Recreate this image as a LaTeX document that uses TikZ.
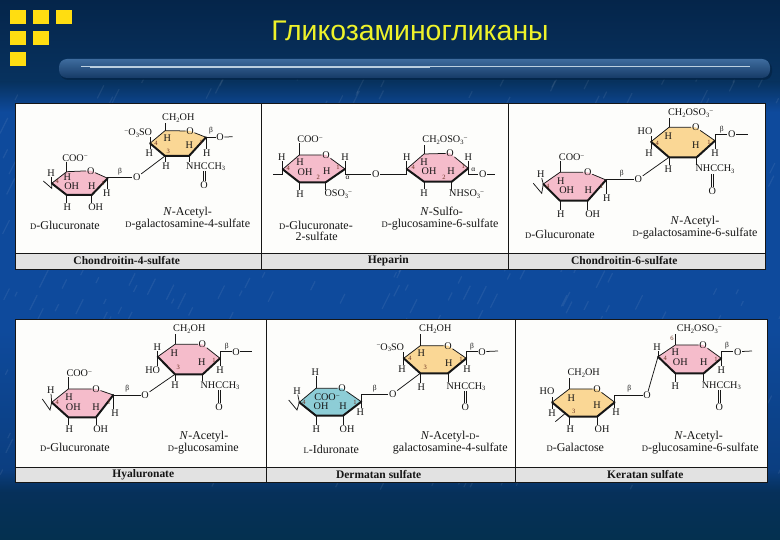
\documentclass[tikz,border=0pt]{standalone}
\usepackage{fontspec}
\setmainfont{Liberation Serif}
\newfontfamily\titlefont{Liberation Sans}
\definecolor{ink}{HTML}{161616}
\definecolor{pinkring}{HTML}{F5BCCB}
\definecolor{yellowring}{HTML}{FAD795}
\definecolor{bluering}{HTML}{8DCDD6}
\definecolor{panelwhite}{HTML}{FDFDFB}
\definecolor{bargrey}{HTML}{E2E2E2}
\definecolor{numred}{HTML}{6A3020}
\definecolor{squareyellow}{HTML}{FFDD11}
\definecolor{titleyellow}{HTML}{EEF22A}
\definecolor{bgtop}{HTML}{05254A}
\definecolor{bgupper}{HTML}{07325F}
\definecolor{bgmid}{HTML}{0E4A9C}
\definecolor{bglow}{HTML}{0B3E80}
\definecolor{bgbot}{HTML}{06305A}
\definecolor{bgend}{HTML}{04304F}
\definecolor{bartop}{HTML}{3E6C9E}
\definecolor{barbot}{HTML}{163A66}
\definecolor{barshadow}{HTML}{03203F}
\definecolor{barline}{HTML}{BCD0E0}
\tikzset{
  lab/.style={font=\fontsize{10.2}{10}\selectfont,text=ink,inner sep=0.4pt,anchor=center},
  captxt/.style={font=\fontsize{12}{12}\selectfont,text=ink,inner sep=0pt,anchor=center,align=center},
  barlab/.style={font=\bfseries\fontsize{11.5}{11.5}\selectfont,text=ink,inner sep=0pt,anchor=center},
  num/.style={font=\fontsize{6.5}{6.5}\selectfont,text=numred,inner sep=0pt,anchor=center},
  greek/.style={font=\fontsize{7.5}{7.5}\selectfont,text=ink,inner sep=0pt,anchor=center},
  oxy/.style={font=\fontsize{10.2}{10}\selectfont,text=ink,inner sep=0.6pt,anchor=center},
  bond/.style={draw=ink,line width=.75pt},
  wedge/.style={draw=ink,line width=2pt,line join=round,line cap=round},
  panelbox/.style={draw=ink,line width=.7pt,fill=panelwhite},
  barbox/.style={draw=ink,line width=.7pt,fill=bargrey},
  sq/.style={fill=squareyellow},
}
\newcommand\chg{\raisebox{.55ex}{\fontsize{7}{7}\selectfont −}}
\newcommand\dn[1]{\raisebox{-.3ex}{\fontsize{6.5}{6.5}\selectfont #1}}
\newcommand\sD{{\fontsize{8.6}{8.6}\selectfont D}}
\newcommand\sL{{\fontsize{8.6}{8.6}\selectfont L}}
% name, colour, L, TL, O, R, BR, BL
\newcommand\ring[8]{%
  \coordinate (#1-L) at (#3);\coordinate (#1-TL) at (#4);\coordinate (#1-R) at (#6);
  \coordinate (#1-BR) at (#7);\coordinate (#1-BL) at (#8);
  \fill[#2] (#3)--(#4)--(#5)--(#6)--(#7)--(#8)--cycle;
  \node[oxy] (#1-O) at (#5) {O};
  \draw[bond] (#1-L)--(#1-TL)--(#1-O);
  \draw[bond] (#1-O)--(#1-R);
  \draw[wedge] (#1-R)--(#1-BR)--(#1-BL)--(#1-L);
}
\newcommand\T[4]{\node[lab] (#1) at (#2,#3) {#4};}
\newcommand\C[4]{\node[captxt] (#1) at (#2,#3) {#4};}
\newcommand\U[2]{\draw[bond] (#1) -- (#1 |- #2.south);}
\newcommand\D[2]{\draw[bond] (#1) -- (#1 |- #2.north);}
\newcommand\N[4]{\node[num] (#1) at (#2,#3) {#4};}
\newcommand\G[4]{\node[greek] (#1) at (#2,#3) {#4};}
\newcommand\CO[2]{%
  \draw[bond] ([xshift=-1.1pt]#2.north |- #1.south) -- ([xshift=-1.1pt]#2.north);
  \draw[bond] ([xshift=1.1pt]#2.north |- #1.south) -- ([xshift=1.1pt]#2.north);}
\begin{document}
\begin{tikzpicture}[x=1pt,y=-1pt]
\useasboundingbox (0,0) rectangle (780,540);
% background
\shade[top color=bgtop,bottom color=bgupper] (0,0) rectangle (780,82);
\shade[top color=bgupper,bottom color=bgmid] (0,82) rectangle (780,112);
\fill[bgmid] (0,112) rectangle (780,330);
\shade[top color=bgmid,bottom color=bglow] (0,330) rectangle (780,470);
\shade[top color=bglow,bottom color=bgbot] (0,470) rectangle (780,492);
\shade[top color=bgbot,bottom color=bgend] (0,492) rectangle (780,540);
\begin{scope}
\clip (0,80) rectangle (780,490);
\pgfmathsetseed{7}
\foreach \k in {1,...,420}{
  \pgfmathsetmacro{\px}{rnd*780}\pgfmathsetmacro{\py}{80+rnd*410}\pgfmathsetmacro{\dl}{4+rnd*14}
  \draw[white,opacity=.07,line width=1.2pt] (\px,\py) -- ++(\dl*.5,-\dl);
}
\end{scope}
% corner squares
\fill[sq] (10,10) rectangle (26,24);\fill[sq] (33,10) rectangle (49,24);\fill[sq] (56,10) rectangle (72,24);
\fill[sq] (10,31) rectangle (26,45);\fill[sq] (33,31) rectangle (49,45);
\fill[sq] (10,52) rectangle (26,66);
% title
\node[font=\titlefont\fontsize{28.4}{30}\selectfont,text=titleyellow,inner sep=0pt] (title) at (410,31) {Гликозаминогликаны};
% header bar
\fill[barshadow,opacity=.6,rounded corners=8pt] (60,61) rectangle (772,80);
\shade[top color=bartop,bottom color=barbot,rounded corners=8pt] (59,59) rectangle (770,78);
\draw[barline,line width=.6pt] (81,66) -- (750,66);
\draw[barline,line width=.9pt] (90,67.6) -- (430,67.6);
% panels
\draw[panelbox] (15,103) rectangle (261,253);
\draw[panelbox] (261,103) rectangle (508,253);
\draw[panelbox] (508,103) rectangle (765,253);
\draw[barbox] (15,253) rectangle (261,269);
\draw[barbox] (261,253) rectangle (508,269);
\draw[barbox] (508,253) rectangle (765,269);
\draw[panelbox] (15,319) rectangle (266,467);
\draw[panelbox] (266,319) rectangle (515,467);
\draw[panelbox] (515,319) rectangle (767,467);
\draw[barbox] (15,467) rectangle (266,482);
\draw[barbox] (266,467) rectangle (515,482);
\draw[barbox] (515,467) rectangle (767,482);
\node[barlab] (bar1) at (126.7,260.5) {Chondroitin-4-sulfate};
\node[barlab] (bar2) at (388.3,260.5) {Heparin};
\node[barlab] (bar3) at (624.3,260.5) {Chondroitin-6-sulfate};
\node[barlab] (bar4) at (143.3,475) {Hyaluronate};
\node[barlab] (bar5) at (378.7,474.5) {Dermatan sulfate};
\node[barlab] (bar6) at (645.3,474.5) {Keratan sulfate};

% ---------- Panel 1
\ring{aa}{pinkring}{51.7,183.3}{66.7,171.7}{90.7,170.7}{107.7,178.3}{91.7,195}{66.7,195}
\T{aa1}{75}{157.7}{COO\chg}\U{aa-TL}{aa1}
\T{aa2}{51}{172.7}{H}\U{aa-L}{aa2}
\T{aa3}{67.3}{177}{H}\T{aa4}{71.7}{186.5}{OH}\T{aa5}{91.7}{186}{H}
\T{aa6}{106.7}{193.3}{H}\D{aa-R}{aa6}
\T{aa7}{67.3}{207.3}{H}\D{aa-BL}{aa7}
\T{aa8}{95.7}{207.3}{OH}\D{aa-BR}{aa8}
\N{aa9}{57.3}{181.7}{4}\N{aa10}{103}{183}{1}
\coordinate (aat) at (43.3,181);\coordinate (aau) at (51.7,188.3);
\draw[bond] (aat)--(aau)--(aa-L);
\G{aab}{120}{171.7}{β}
\node[oxy] (aj) at (136.7,177.3) {O};
\draw[bond] (aa-R) |- (aj);
\ring{ab}{yellowring}{150,143.3}{165,130.7}{190,131}{206,137.3}{189,156}{165,156}
\draw[bond] (aj) -- (ab-BL);
\T{ab1}{178.3}{118.3}{CH\dn{2}OH}\U{ab-TL}{ab1}
\T{ab2}{138.3}{133.3}{\chg O\dn{3}SO}\draw[bond] (ab-L) -- ++(0,-6);
\T{ab3}{149.3}{152.7}{H}\D{ab-L}{ab3}
\T{ab4}{167.3}{137.7}{H}\T{ab5}{189.3}{145}{H}
\T{ab6}{206.7}{152.7}{H}\D{ab-R}{ab6}
\T{ab7}{166}{166}{H}\D{ab-BL}{ab7}
\T{ab8}{205.7}{166.7}{NHCCH\dn{3}}\D{ab-BR}{ab8}
\T{ab9}{204}{185.5}{O}\CO{ab8}{ab9}
\N{ab10}{156}{143}{4}\N{ab11}{168.3}{151.7}{3}\N{ab12}{201}{142}{1}
\G{abb}{211}{131}{β}
\node[oxy] (ao) at (220,137.3) {O};\coordinate (ae) at (232.7,136.7);
\draw[bond] (ab-R) |- (ao);\draw[bond] (ao)--(ae);
\C{ac1}{65}{225}{\sD-Glucuronate}
\C{ac2}{187.7}{212.7}{\textit{N}-Acetyl-}
\C{ac3}{187.7}{225}{\sD-galactosamine-4-sulfate}

% ---------- Panel 2
\ring{ba}{pinkring}{282.7,169.3}{299.3,155}{326,155}{345,169}{325.7,182.3}{299.3,182.3}
\T{ba1}{310}{139.3}{COO\chg}\U{ba-TL}{ba1}
\T{ba2}{281.7}{156.7}{H}\U{ba-L}{ba2}
\T{ba3}{300}{162.3}{H}\T{ba4}{305}{171.8}{OH}\T{ba5}{326.7}{171.3}{H}
\T{ba6}{345}{156.7}{H}\U{ba-R}{ba6}
\T{ba7}{300}{194.3}{H}\D{ba-BL}{ba7}
\T{ba8}{338.3}{194.3}{OSO\dn{3}\chg}\D{ba-BR}{ba8}
\N{ba9}{288.3}{168.3}{4}\N{ba10}{338}{167.7}{1}\N{ba11}{318.3}{177.3}{2}
\coordinate (bat) at (273.3,174);\coordinate (bau) at (282.7,174);
\draw[bond] (bat)--(bau)--(ba-L);
\G{bab}{347.5}{177.5}{α}
\node[oxy] (bj) at (375.7,174) {O};
\draw[bond] (ba-R) |- (bj);
\ring{bb}{pinkring}{406.7,169}{424,154}{450,153.3}{468.3,168.3}{451.7,181.7}{424,181.7}
\draw[bond] (bb-L) |- (bj);
\T{bb1}{445}{140}{CH\dn{2}OSO\dn{3}\chg}\U{bb-TL}{bb1}
\T{bb2}{406.7}{156.7}{H}\U{bb-L}{bb2}
\T{bb3}{424}{161.7}{H}\T{bb4}{429}{171.3}{OH}\T{bb5}{451}{170.7}{H}
\T{bb6}{468.3}{156.7}{H}\U{bb-R}{bb6}
\T{bb7}{424}{193.3}{H}\D{bb-BL}{bb7}
\T{bb8}{466.7}{194.3}{NHSO\dn{3}\chg}\D{bb-BR}{bb8}
\N{bb9}{413.3}{167.7}{4}\N{bb10}{463.3}{166.7}{1}\N{bb11}{444}{177.3}{2}
\G{bbb}{473.3}{169.3}{α}
\node[oxy] (bo) at (482.7,174) {O};\coordinate (be) at (495,174);
\draw[bond] (bb-R) |- (bo);\draw[bond] (bo)--(be);
\C{bc1}{316}{225}{\sD-Glucuronate-}
\C{bc2}{316.7}{236.7}{2-sulfate}
\C{bc3}{441.7}{211.7}{\textit{N}-Sulfo-}
\C{bc4}{440}{225}{\sD-glucosamine-6-sulfate}

% ---------- Panel 3
\ring{ca}{pinkring}{543.3,184}{560,172.3}{587.7,172.3}{606,180}{587.7,200.7}{560,200.7}
\T{ca1}{571.7}{157.3}{COO\chg}\U{ca-TL}{ca1}
\T{ca2}{540.7}{174.3}{H}\draw[bond] (ca-L)--(ca2);
\T{ca3}{560.7}{180.7}{H}\T{ca4}{566.7}{190}{OH}\T{ca5}{588.3}{190}{H}
\T{ca6}{606.7}{198.3}{H}\D{ca-R}{ca6}
\T{ca7}{560.7}{214}{H}\D{ca-BL}{ca7}
\T{ca8}{592.7}{214}{OH}\D{ca-BR}{ca8}
\N{ca9}{547.7}{186}{4}\N{ca10}{601.7}{186}{1}
\coordinate (cat) at (533.3,183.3);\coordinate (cau) at (541.7,193.3);
\draw[bond] (cat)--(cau)--(ca-L);
\G{cab}{621.7}{173.3}{β}
\node[oxy] (cj) at (638.3,179) {O};
\draw[bond] (ca-R) |- (cj);
\ring{cb}{yellowring}{651,141.7}{669,127.3}{695.7,127.3}{715,140.7}{696.7,157.3}{669,157.3}
\draw[bond] (cj) -- (cb-BL);
\T{cb1}{690.7}{113.3}{CH\dn{2}OSO\dn{3}\chg}\U{cb-TL}{cb1}
\T{cb2}{645}{130.7}{HO}\draw[bond] (cb-L) -- ++(0,-6);
\T{cb3}{649}{153.3}{H}\D{cb-L}{cb3}
\T{cb4}{668.3}{136}{H}\T{cb5}{695.7}{145}{H}
\T{cb6}{715}{153.3}{H}\D{cb-R}{cb6}
\T{cb7}{668.3}{169.3}{H}\D{cb-BL}{cb7}
\T{cb8}{715}{169.3}{NHCCH\dn{3}}\D{cb-BR}{cb8}
\T{cb9}{712.3}{190.7}{O}\CO{cb8}{cb9}
\N{cb10}{657.3}{143.3}{4}\N{cb11}{709}{142.7}{1}
\G{cbb}{721.7}{130}{β}
\node[oxy] (co) at (731.7,134.3) {O};\coordinate (ce) at (747.7,134.3);
\draw[bond] (cb-R) |- (co);\draw[bond] (co)--(ce);
\C{cc1}{560}{234}{\sD-Glucuronate}
\C{cc2}{695}{221.7}{\textit{N}-Acetyl-}
\C{cc3}{695}{234}{\sD-galactosamine-6-sulfate}

% ---------- Panel 4
\ring{da}{pinkring}{51.7,402.3}{68.3,389}{96,389}{113.3,395}{96,417.3}{68.3,417.3}
\T{da1}{79.3}{373.3}{COO\chg}\U{da-TL}{da1}
\T{da2}{50.7}{390}{H}\draw[bond] (da-L)--(da2);
\T{da3}{69}{396.7}{H}\T{da4}{73.3}{406.7}{OH}\T{da5}{96}{406.7}{H}
\T{da6}{115}{413.3}{H}\D{da-R}{da6}
\T{da7}{69.3}{429.3}{H}\D{da-BL}{da7}
\T{da8}{100.7}{429.3}{OH}\D{da-BR}{da8}
\N{da9}{57.3}{402}{4}\N{da10}{109}{402}{1}
\coordinate (dat) at (42.3,399);\coordinate (dau) at (50,410);
\draw[bond] (dat)--(dau)--(da-L);
\G{dab}{127.3}{388.3}{β}
\node[oxy] (dj) at (145,395) {O};
\draw[bond] (da-R) |- (dj);
\ring{db}{pinkring}{157.7,356.7}{175,344.3}{202.3,344.3}{220,358.3}{202.7,374.3}{175,374.3}
\draw[bond] (dj) -- (db-BL);
\T{db1}{189.3}{329.3}{CH\dn{2}OH}\U{db-TL}{db1}
\T{db2}{157.3}{347.3}{H}\U{db-L}{db2}
\T{db3}{174.3}{352.7}{H}
\T{db4}{152.7}{370}{HO}\D{db-L}{db4}
\T{db5}{201.7}{361.7}{H}
\T{db6}{220}{370}{H}\D{db-R}{db6}
\T{db7}{175}{385}{H}\D{db-BL}{db7}
\T{db8}{220}{385.7}{NHCCH\dn{3}}\D{db-BR}{db8}
\T{db9}{219}{406.7}{O}\CO{db8}{db9}
\N{db10}{178.3}{367.7}{3}\N{db11}{214}{360}{1}
\G{dbb}{226.7}{346.7}{β}
\node[oxy] (do) at (236,351.7) {O};\coordinate (de) at (251.7,351.7);
\draw[bond] (db-R) |- (do);\draw[bond] (do)--(de);
\C{dc1}{75}{447.7}{\sD-Glucuronate}
\C{dc2}{204}{436.7}{\textit{N}-Acetyl-}
\C{dc3}{203.3}{449}{\sD-glucosamine}

% ---------- Panel 5
\ring{ea}{bluering}{299.3,402.3}{316,388.3}{342,388.3}{361.3,401.7}{343,415.7}{316,415.7}
\T{ea1}{315.3}{372.3}{H}\U{ea-TL}{ea1}
\T{ea2}{297}{390.7}{H}\draw[bond] (ea-L)--(ea2);
\T{ea3}{327}{397.3}{COO\chg}\T{ea4}{321}{406.3}{OH}\T{ea5}{343}{406}{H}
\T{ea6}{360.3}{412.3}{H}\D{ea-R}{ea6}
\T{ea7}{316.3}{429.3}{H}\D{ea-BL}{ea7}
\T{ea8}{347}{429.3}{OH}\D{ea-BR}{ea8}
\N{ea9}{304}{402}{4}\N{ea10}{355}{402}{1}
\coordinate (eat) at (288.7,400);\coordinate (eau) at (297,410);
\draw[bond] (eat)--(eau)--(ea-L);
\G{eab}{374.7}{388.3}{β}
\node[oxy] (ej) at (392.7,394) {O};
\draw[bond] (ea-R) |- (ej);
\ring{eb}{yellowring}{403.7,358.3}{420.3,345.7}{448,345.7}{466.3,358.3}{448,373.3}{420.3,373.3}
\draw[bond] (ej) -- (eb-BL);
\T{eb1}{435.3}{329.3}{CH\dn{2}OH}\U{eb-TL}{eb1}
\T{eb2}{390.3}{347.7}{\chg O\dn{3}SO}\draw[bond] (eb-L) -- ++(0,-6);
\T{eb3}{402}{369.3}{H}\D{eb-L}{eb3}
\T{eb4}{421.3}{353.3}{H}\T{eb5}{448.7}{362.7}{H}
\T{eb6}{467}{369.3}{H}\D{eb-R}{eb6}
\T{eb7}{421.3}{386.7}{H}\D{eb-BL}{eb7}
\T{eb8}{466}{386.7}{NHCCH\dn{3}}\D{eb-BR}{eb8}
\T{eb9}{465.3}{407.3}{O}\CO{eb8}{eb9}
\N{eb10}{410}{358.3}{4}\N{eb11}{425.3}{367.7}{3}\N{eb12}{461}{359}{1}
\G{ebb}{472}{346.7}{β}
\node[oxy] (eo) at (482,351.7) {O};\coordinate (ee) at (498,351);
\draw[bond] (eb-R) |- (eo);\draw[bond] (eo)--(ee);
\C{ec1}{331.3}{449}{\sL-Iduronate}
\C{ec2}{450.3}{436.7}{\textit{N}-Acetyl-\sD-}
\C{ec3}{450.3}{449}{galactosamine-4-sulfate}

% ---------- Panel 6
\ring{fa}{yellowring}{552,402.3}{569.3,389}{597,389}{614.7,402.3}{597,416.7}{569.3,416.7}
\T{fa1}{583.7}{373.3}{CH\dn{2}OH}\U{fa-TL}{fa1}
\T{fa2}{547}{390.7}{HO}\draw[bond] (fa-L) -- ++(0,-5);
\T{fa3}{552}{413.3}{H}\D{fa-L}{fa3}
\T{fa4}{571.3}{398.3}{H}\T{fa5}{597}{405}{H}
\T{fa6}{616}{411.7}{H}\D{fa-R}{fa6}
\T{fa7}{570.3}{429}{H}\D{fa-BL}{fa7}
\T{fa8}{602}{429}{OH}\D{fa-BR}{fa8}
\N{fa9}{573.7}{411.7}{3}
\coordinate (fas) at (565.3,413.3);\coordinate (fat) at (555.3,421.7);
\draw[bond] (fas)--(fat);
\G{fab}{629.3}{388.3}{β}
\node[oxy] (fj) at (647,395) {O};
\draw[bond] (fa-R) |- (fj);
\ring{fb}{pinkring}{658,356.7}{675.3,345}{703,345}{721.3,358.3}{703.7,373.3}{675.3,373.3}
\draw[bond] (fj) -- (fb-L);
\T{fb1}{699.3}{329.3}{CH\dn{2}OSO\dn{3}\chg}\U{fb-TL}{fb1}
\T{fb2}{657}{347.3}{H}\U{fb-L}{fb2}
\T{fb3}{675.3}{352.2}{H}\T{fb4}{680.3}{362}{OH}\T{fb5}{703.7}{361.7}{H}
\T{fb6}{721.3}{370}{H}\D{fb-R}{fb6}
\T{fb7}{675.3}{385.7}{H}\D{fb-BL}{fb7}
\T{fb8}{721.3}{385.7}{NHCCH\dn{3}}\D{fb-BR}{fb8}
\T{fb9}{719.3}{406.7}{O}\CO{fb8}{fb9}
\N{fb10}{665.3}{358.3}{4}\N{fb11}{672}{338.3}{6}\N{fb12}{716}{359}{1}
\G{fbb}{727}{345.7}{β}
\node[oxy] (fo) at (737.7,351.7) {O};\coordinate (fe) at (752,351);
\draw[bond] (fb-R) |- (fo);\draw[bond] (fo)--(fe);
\C{fc1}{575.3}{447.7}{\sD-Galactose}
\C{fc2}{698.7}{436.7}{\textit{N}-Acetyl-}
\C{fc3}{700.3}{449}{\sD-glucosamine-6-sulfate}
\end{tikzpicture}
\end{document}
